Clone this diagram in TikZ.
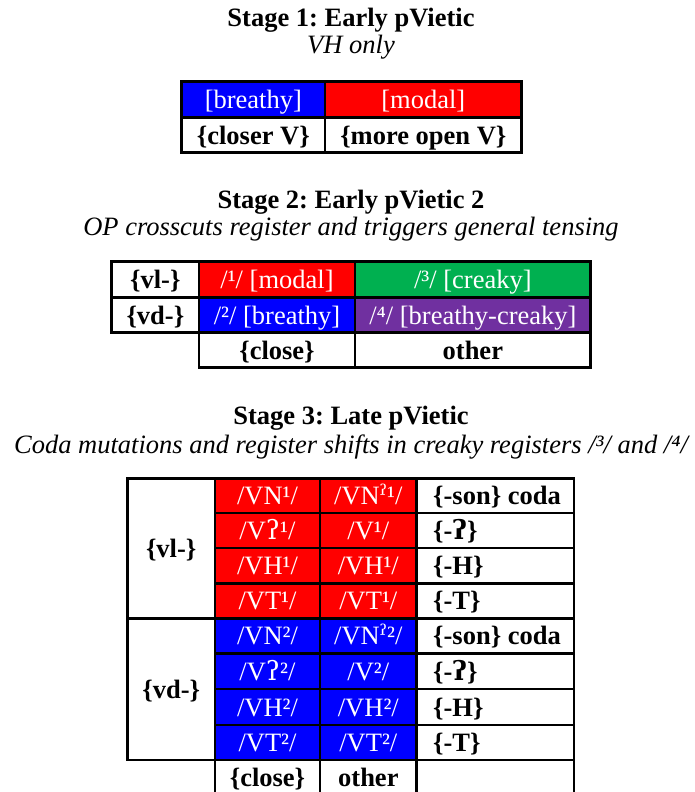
\documentclass[tikz,border=0pt]{standalone}
\usepackage{fontspec}
\setmainfont{Liberation Serif}
\newfontfamily\ipafont{DejaVu Serif}
\newcommand\fs{\fontsize{26.5}{31}\selectfont}
\frenchspacing
% filled cell with a centred label: x1 y1 x2 y2 fill style name text
\newcommand\tcell[8]{%
  \path[fill=#5] (#1,#2) rectangle (#3,#4);
  \node[#6] (#7) at ({(#1+#3)/2},{(#2+#4)/2+9}) {#8};}
\begin{document}
\begin{tikzpicture}[x=1pt,y=-1pt,
  every node/.style={font=\fs, inner sep=0pt},
  lbl/.style={anchor=base, font=\fs\bfseries, text=black},
  reg/.style={anchor=base, font=\fs, text=white},
  lft/.style={anchor=base west, font=\fs\bfseries, text=black},
  ttl/.style={anchor=base, font=\fs\bfseries},
  sub/.style={anchor=base, font=\fs\itshape},
  grid/.style={draw=black, line width=2.5pt}]
\definecolor{cblue}{RGB}{0,0,255}
\definecolor{cred}{RGB}{255,0,0}
\definecolor{cgreen}{RGB}{0,176,80}
\definecolor{cpurple}{RGB}{112,48,160}
\useasboundingbox (0,0) rectangle (695,792);
\clip (0,0) rectangle (695,792);

% ---------- Stage 1 ----------
\node[ttl] (t1) at (351,27) {Stage 1: Early pVietic};
\node[sub] (s1) at (351,53.5) {VH only};
\tcell{181.7}{81.7}{325}{117.3}{cblue}{reg}{a1}{[breathy]}
\tcell{325}{81.7}{521.7}{117.3}{cred}{reg}{a2}{[modal]}
\tcell{181.7}{117.3}{325}{152.7}{white}{lbl}{a3}{\{closer V\}}
\tcell{325}{117.3}{521.7}{152.7}{white}{lbl}{a4}{\{more open V\}}
\draw[grid] (181.7,81.7) rectangle (521.7,152.7);
\draw[grid] (181.7,117.3) -- (521.7,117.3);
\draw[grid] (325,81.7) -- (325,152.7);

% ---------- Stage 2 ----------
\node[ttl] (t2) at (351,208.3) {Stage 2: Early pVietic 2};
\node[sub] (s2) at (351,235) {OP crosscuts register and triggers general tensing};
\tcell{111.7}{261.7}{199}{297.3}{white}{lbl}{b1}{\{vl-\}}
\tcell{199}{261.7}{355}{297.3}{cred}{reg}{b2}{/¹/ [modal]}
\tcell{355}{261.7}{590.7}{297.3}{cgreen}{reg}{b3}{/³/ [creaky]}
\tcell{111.7}{297.3}{199}{332.7}{white}{lbl}{b4}{\{vd-\}}
\tcell{199}{297.3}{355}{332.7}{cblue}{reg}{b5}{/²/ [breathy]}
\tcell{355}{297.3}{590.7}{332.7}{cpurple}{reg}{b6}{/⁴/ [breathy-creaky]}
\tcell{199}{332.7}{355}{367.3}{white}{lbl}{b7}{\{close\}}
\tcell{355}{332.7}{590.7}{367.3}{white}{lbl}{b8}{other}
\draw[grid] (111.7,261.7) rectangle (590.7,332.7);
\draw[grid] (199,332.7) rectangle (590.7,367.3);
\draw[grid] (111.7,297.3) -- (590.7,297.3);
\draw[grid] (199,261.7) -- (199,367.3);
\draw[grid] (355,261.7) -- (355,367.3);

% ---------- Stage 3 ----------
\node[ttl] (t3) at (351,424.3) {Stage 3: Late pVietic};
\node[sub] (s3) at (351,453) {Coda mutations and register shifts in creaky registers /³/ and /⁴/};

% register column
\node[lbl] (vl) at (171.2,{(478.3+618.3)/2+9}) {\{vl-\}};
\node[lbl] (vd) at (171.2,{(618.3+760)/2+9}) {\{vd-\}};

% upper (voiceless) block
\tcell{215}{478.3}{320}{513}{cred}{reg}{c11}{/VN¹/}
\tcell{320}{478.3}{416.7}{513}{cred}{reg}{c12}{/VN{\ipafont ˀ}¹/}
\tcell{215}{513}{320}{548}{cred}{reg}{c21}{/V{\ipafont ʔ}¹/}
\tcell{320}{513}{416.7}{548}{cred}{reg}{c22}{/V¹/}
\tcell{215}{548}{320}{583.3}{cred}{reg}{c31}{/VH¹/}
\tcell{320}{548}{416.7}{583.3}{cred}{reg}{c32}{/VH¹/}
\tcell{215}{583.3}{320}{618.3}{cred}{reg}{c41}{/VT¹/}
\tcell{320}{583.3}{416.7}{618.3}{cred}{reg}{c42}{/VT¹/}
% lower (voiced) block
\tcell{215}{618.3}{320}{653.3}{cblue}{reg}{c51}{/VN²/}
\tcell{320}{618.3}{416.7}{653.3}{cblue}{reg}{c52}{/VN{\ipafont ˀ}²/}
\tcell{215}{653.3}{320}{689}{cblue}{reg}{c61}{/V{\ipafont ʔ}²/}
\tcell{320}{653.3}{416.7}{689}{cblue}{reg}{c62}{/V²/}
\tcell{215}{689}{320}{725}{cblue}{reg}{c71}{/VH²/}
\tcell{320}{689}{416.7}{725}{cblue}{reg}{c72}{/VH²/}
\tcell{215}{725}{320}{760}{cblue}{reg}{c81}{/VT²/}
\tcell{320}{725}{416.7}{760}{cblue}{reg}{c82}{/VT²/}
% bottom labels
\tcell{215}{760}{320}{795}{white}{lbl}{c91}{\{close\}}
\tcell{320}{760}{416.7}{795}{white}{lbl}{c92}{other}

% coda column
\foreach \ya/\yb/\txt/\nm in {478.3/513/{\{-son\} coda}/d1, 513/548/{\{-{\ipafont\bfseries ʔ}\}}/d2,
    548/583.3/{\{-H\}}/d3, 583.3/618.3/{\{-T\}}/d4, 618.3/653.3/{\{-son\} coda}/d5,
    653.3/689/{\{-{\ipafont\bfseries ʔ}\}}/d6, 689/725/{\{-H\}}/d7, 725/760/{\{-T\}}/d8}{
  \node[lft] (\nm) at (433,{(\ya+\yb)/2+9}) {\txt};
}

% rules
\draw[grid] (127.3,478.3) rectangle (574,760);
\draw[grid] (215,760) rectangle (574,795);
\draw[grid] (127.3,618.3) -- (574,618.3);
\foreach \yy in {513,548,583.3,653.3,689,725}
  \draw[grid] (215,\yy) -- (574,\yy);
\foreach \xx in {215,320,416.7}
  \draw[grid] (\xx,478.3) -- (\xx,795);
\end{tikzpicture}
\end{document}
